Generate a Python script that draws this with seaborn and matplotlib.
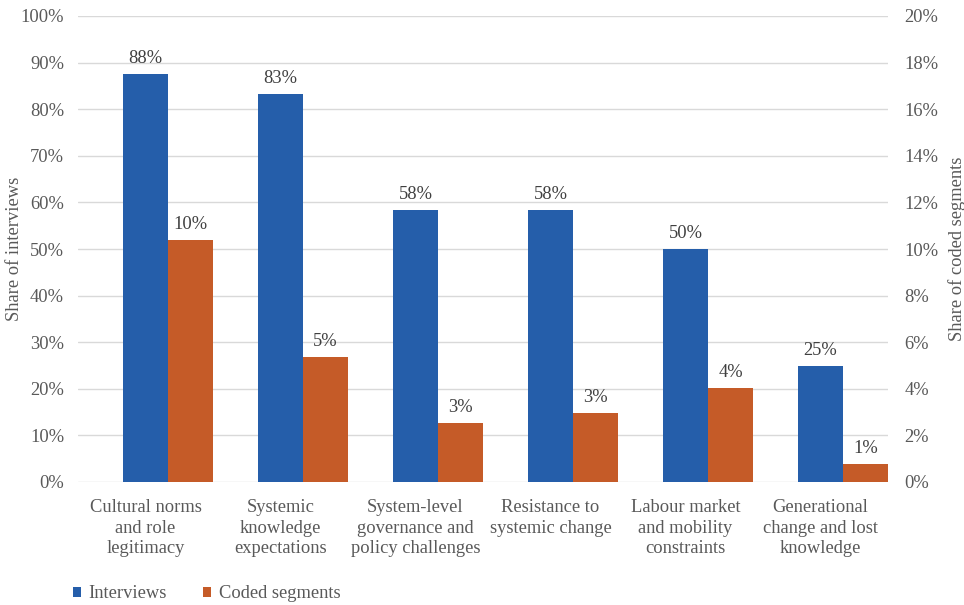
import matplotlib
matplotlib.use("Agg")
import matplotlib.pyplot as plt
from matplotlib.patches import Patch
import pandas as pd
import seaborn as sns

# Categories (themes) and the two series, in percent
categories = [
    "Cultural norms\nand role\nlegitimacy",
    "Systemic\nknowledge\nexpectations",
    "System-level\ngovernance and\npolicy challenges",
    "Resistance to\nsystemic change",
    "Labour market\nand mobility\nconstraints",
    "Generational\nchange and lost\nknowledge",
]
interviews = [87.5, 83.3, 58.3, 58.3, 50.0, 25.0]        # share of interviews (left axis)
coded_segments = [10.4, 5.35, 2.52, 2.95, 4.02, 0.76]    # share of coded segments (right axis)
left_ticks = list(range(0, 101, 10))
right_ticks = list(range(0, 21, 2))

series_names = ["Interviews", "Coded segments"]
# each category is split in three slots: an empty one, then the two series
slot_order = ["spacer"] + series_names
colors = {"spacer": "white", "Interviews": "#255EAA", "Coded segments": "#C55B28"}
text_color = "#595959"
grid_color = "#D9D9D9"
fs = 13.3

sns.set_theme(style="white")
plt.rcParams["font.family"] = ["Liberation Serif", "DejaVu Serif"]

df_int = pd.DataFrame({"theme": categories, "value": interviews, "series": "Interviews"})
df_cod = pd.DataFrame({"theme": categories, "value": coded_segments, "series": "Coded segments"})

fig = plt.figure(figsize=(9.64, 6.05), dpi=100)
ax = fig.add_axes([78 / 964, 1 - 482 / 605, 810 / 964, 466 / 605])
ax2 = ax.twinx()

common = dict(x="theme", y="value", hue="series", hue_order=slot_order,
              order=categories, palette=colors, width=1.0, saturation=1,
              dodge=True, legend=False, errorbar=None, linewidth=0)
sns.barplot(data=df_int, ax=ax, **common)
sns.barplot(data=df_cod, ax=ax2, **common)

ax.set_ylim(0, 100)
ax2.set_ylim(0, 20)
ax.set_xlim(-0.5, len(categories) - 0.5)
ax.set_yticks(left_ticks)
ax.set_yticklabels([f"{t}%" for t in left_ticks])
ax2.set_yticks(right_ticks)
ax2.set_yticklabels([f"{t}%" for t in right_ticks])

# gridlines drawn on the primary axis, behind the bars
ax.set_axisbelow(True)
ax.yaxis.grid(True, color=grid_color, linewidth=1)
ax.xaxis.grid(False)
ax2.grid(False)
for a in (ax, ax2):
    for s in a.spines.values():
        s.set_visible(False)
    a.tick_params(axis="both", length=0, labelsize=fs, colors=text_color)

ax.tick_params(axis="y", pad=10)
ax2.tick_params(axis="y", pad=12)
ax.tick_params(axis="x", pad=12)
for lbl in ax.get_xticklabels():
    lbl.set_linespacing(1.3)

ax.set_xlabel("")
ax.set_ylabel("Share of interviews", fontsize=fs, color=text_color)
ax.yaxis.set_label_coords(-0.068, 0.5)
ax2.set_ylabel("Share of coded segments", fontsize=fs, color=text_color, rotation=90)
ax2.yaxis.set_label_coords(1.074, 0.5)


def series_container(a, name):
    """Return the bar container that holds the given series on an axes."""
    for cont in a.containers:
        if cont.get_label() == name:
            return cont
    return max(a.containers, key=lambda c: sum(b.get_height() for b in c))


# value labels
for a, name in ((ax, "Interviews"), (ax2, "Coded segments")):
    cont = series_container(a, name)
    a.bar_label(cont, labels=[f"{b.get_height():.0f}%" for b in cont],
                padding=5, fontsize=fs, color="#404040")

handles = [Patch(facecolor=colors[n], edgecolor="none") for n in series_names]
fig.legend(handles, series_names, loc="center left", bbox_to_anchor=(73 / 964, 1 - 594 / 605),
           ncol=2, frameon=False, fontsize=fs, handlelength=0.45, handleheight=0.45,
           handletextpad=0.4, columnspacing=1.95, labelcolor=text_color,
           borderpad=0, borderaxespad=0)

fig.savefig("out.png", dpi=100)
